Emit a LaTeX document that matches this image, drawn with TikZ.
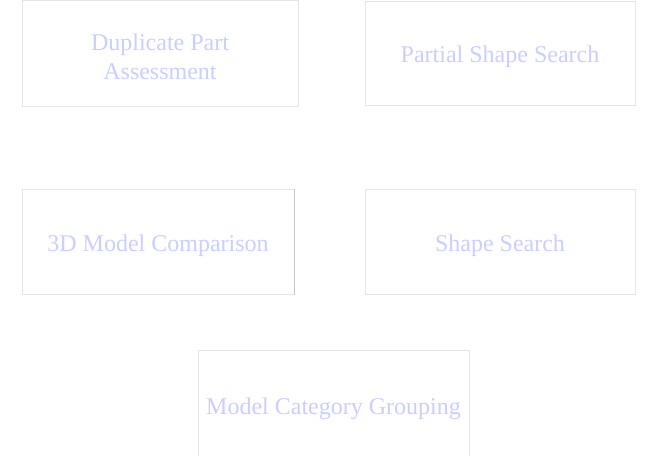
\documentclass[tikz,border=0pt]{standalone}
\usepackage{fontspec}
\setmainfont{Liberation Serif}
\definecolor{boxline}{RGB}{230,230,230}
\definecolor{txt}{RGB}{200,208,255}
\begin{document}
\begin{tikzpicture}[x=1pt,y=1pt,
  card/.style={draw=boxline, line width=1pt, fill=white, inner sep=0pt},
  lbl/.style={text=txt, font=\fontsize{24}{29}\selectfont, align=center}]
\useasboundingbox (0,0) rectangle (661,455);
\fill[white] (0,0) rectangle (661,455);
% boxes (y flipped: 455 - pixel y)
\node[card, minimum width=276pt, minimum height=106pt] (b1) at (160,401) {};
\node[card, minimum width=270pt, minimum height=104pt] (b2) at (500,401) {};
\node[card, minimum width=272pt, minimum height=105pt] (b3) at (158,212.5) {};
\node[card, minimum width=270pt, minimum height=105pt] (b4) at (500,212.5) {};
\node[card, minimum width=271pt, minimum height=110pt] (b5) at (333.5,49) {};
\draw[draw={rgb,255:red,200;green,200;blue,200}, line width=1pt] (b3.north east) -- (b3.south east);
% labels
\node[lbl] (t1) at ([yshift=-2.5pt]b1.center) {Duplicate Part\\Assessment};
\node[lbl] (t2) at ([yshift=-3pt]b2.center) {Partial Shape Search};
\node[lbl] (t3) at ([yshift=-3pt]b3.center) {3D Model Comparison};
\node[lbl] (t4) at ([yshift=-3pt]b4.center) {Shape Search};
\node[lbl] (t5) at ([yshift=-2.5pt]b5.center) {Model Category Grouping};
\end{tikzpicture}
\end{document}
